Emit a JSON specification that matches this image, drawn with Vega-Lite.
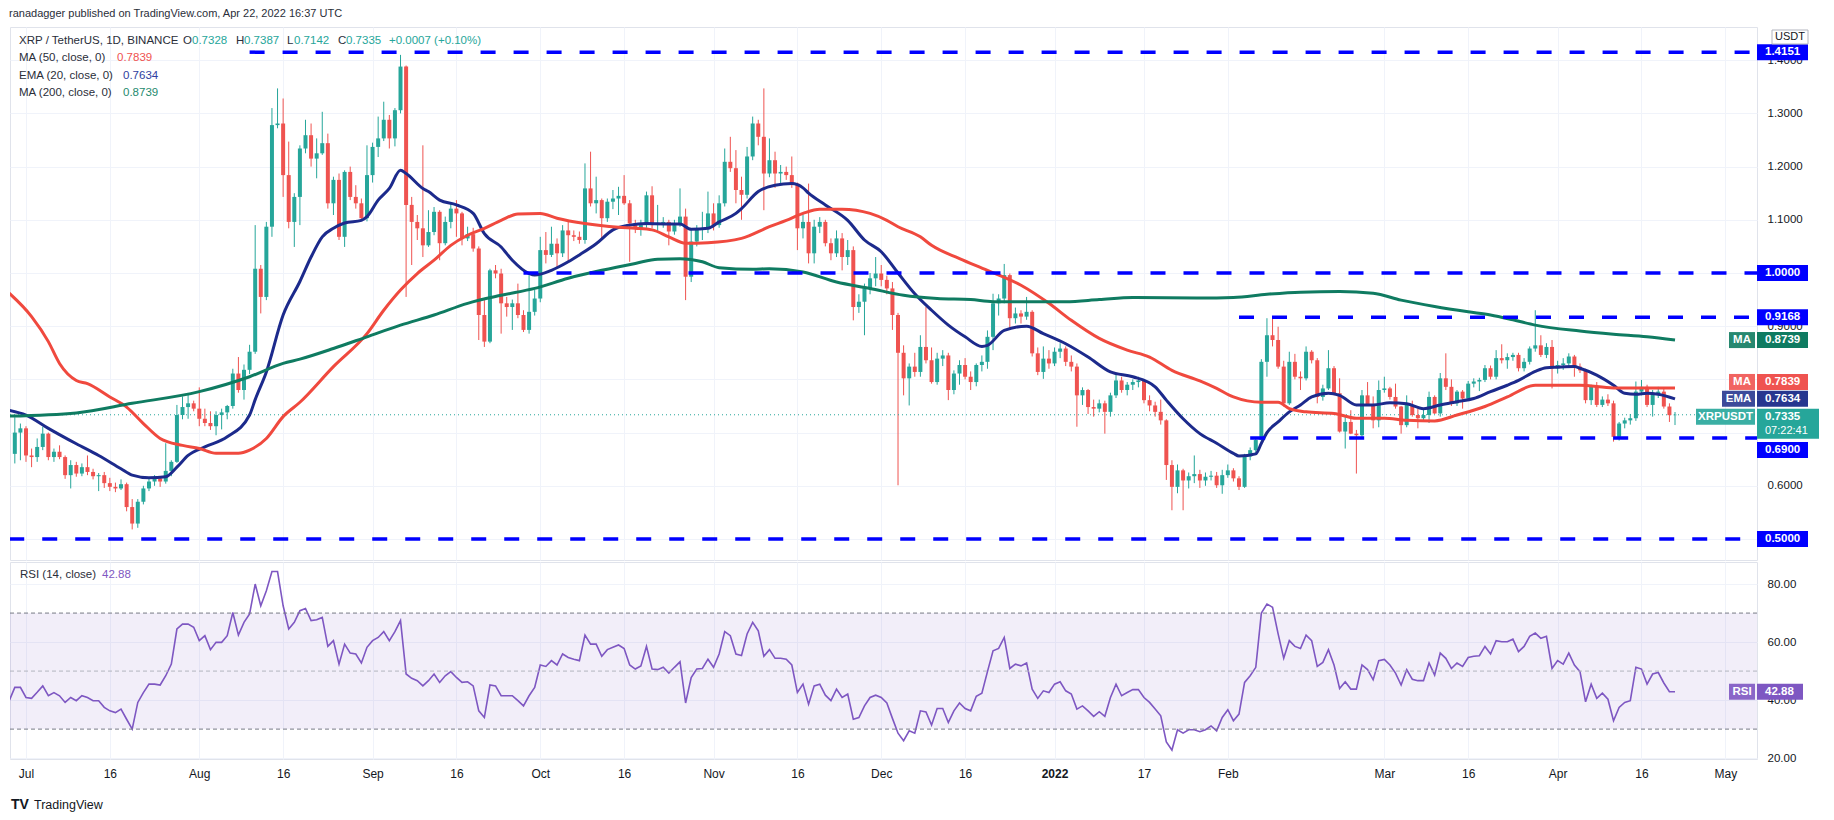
{
  "$schema": "https://vega.github.io/schema/vega-lite/v6.json",
  "background": "white",
  "padding": {"left": 9, "top": 7, "right": 5, "bottom": 5},
  "title": {"text": "ranadagger published on TradingView.com, Apr 22, 2022 16:37 UTC", "anchor": "start", "fontSize": 11, "fontWeight": "normal", "color": "#2a2e39", "font": "Liberation Sans", "offset": 8},
  "spacing": 0,
  "config": {
    "view": {"stroke": "#e0e3eb"},
    "font": "Liberation Sans",
    "text": {"font": "Liberation Sans", "fontSize": 11.5}
  },
  "datasets": {
    "candles": [
      {"d":"2021-06-28","o":null,"h":null,"l":null,"c":null,"r":39.8},
      {"d":"2021-06-29","o":0.660,"h":0.729,"l":0.642,"c":0.700,"r":44.4},
      {"d":"2021-06-30","o":0.700,"h":0.717,"l":0.648,"c":0.708,"r":44.4},
      {"d":"2021-07-01","o":0.708,"h":0.712,"l":0.645,"c":0.657,"r":40.9},
      {"d":"2021-07-02","o":0.657,"h":0.670,"l":0.635,"c":0.654,"r":40.6},
      {"d":"2021-07-03","o":0.654,"h":0.689,"l":0.645,"c":0.673,"r":42.7},
      {"d":"2021-07-04","o":0.673,"h":0.711,"l":0.667,"c":0.698,"r":44.9},
      {"d":"2021-07-05","o":0.698,"h":0.700,"l":0.648,"c":0.654,"r":41.5},
      {"d":"2021-07-06","o":0.654,"h":0.670,"l":0.645,"c":0.664,"r":42.6},
      {"d":"2021-07-07","o":0.664,"h":0.676,"l":0.650,"c":0.654,"r":41.5},
      {"d":"2021-07-08","o":0.654,"h":0.657,"l":0.613,"c":0.620,"r":39.2},
      {"d":"2021-07-09","o":0.620,"h":0.648,"l":0.595,"c":0.639,"r":40.9},
      {"d":"2021-07-10","o":0.639,"h":0.645,"l":0.617,"c":0.623,"r":39.8},
      {"d":"2021-07-11","o":0.623,"h":0.642,"l":0.618,"c":0.635,"r":41.5},
      {"d":"2021-07-12","o":0.635,"h":0.657,"l":0.620,"c":0.626,"r":40.9},
      {"d":"2021-07-13","o":0.626,"h":0.632,"l":0.612,"c":0.618,"r":39.8},
      {"d":"2021-07-14","o":0.618,"h":0.624,"l":0.590,"c":0.620,"r":39.8},
      {"d":"2021-07-15","o":0.620,"h":0.626,"l":0.596,"c":0.605,"r":37.5},
      {"d":"2021-07-16","o":0.605,"h":0.615,"l":0.590,"c":0.598,"r":36.3},
      {"d":"2021-07-17","o":0.598,"h":0.606,"l":0.588,"c":0.595,"r":35.7},
      {"d":"2021-07-18","o":0.595,"h":0.612,"l":0.592,"c":0.603,"r":36.9},
      {"d":"2021-07-19","o":0.603,"h":0.606,"l":0.552,"c":0.560,"r":33.4},
      {"d":"2021-07-20","o":0.560,"h":0.575,"l":0.518,"c":0.529,"r":30.0},
      {"d":"2021-07-21","o":0.529,"h":0.575,"l":0.521,"c":0.570,"r":39.2},
      {"d":"2021-07-22","o":0.570,"h":0.600,"l":0.565,"c":0.595,"r":42.6},
      {"d":"2021-07-23","o":0.595,"h":0.615,"l":0.590,"c":0.608,"r":45.5},
      {"d":"2021-07-24","o":0.608,"h":0.620,"l":0.600,"c":0.614,"r":45.5},
      {"d":"2021-07-25","o":0.614,"h":0.618,"l":0.598,"c":0.608,"r":45.2},
      {"d":"2021-07-26","o":0.608,"h":0.680,"l":0.604,"c":0.628,"r":48.4},
      {"d":"2021-07-27","o":0.628,"h":0.648,"l":0.618,"c":0.645,"r":52.4},
      {"d":"2021-07-28","o":0.645,"h":0.752,"l":0.643,"c":0.733,"r":64.5},
      {"d":"2021-07-29","o":0.733,"h":0.768,"l":0.725,"c":0.748,"r":66.2},
      {"d":"2021-07-30","o":0.748,"h":0.773,"l":0.726,"c":0.755,"r":66.2},
      {"d":"2021-07-31","o":0.755,"h":0.760,"l":0.740,"c":0.745,"r":65.1},
      {"d":"2021-08-01","o":0.745,"h":0.785,"l":0.712,"c":0.726,"r":60.5},
      {"d":"2021-08-02","o":0.726,"h":0.745,"l":0.712,"c":0.718,"r":62.2},
      {"d":"2021-08-03","o":0.718,"h":0.740,"l":0.705,"c":0.712,"r":57.4},
      {"d":"2021-08-04","o":0.712,"h":0.740,"l":0.695,"c":0.733,"r":59.9},
      {"d":"2021-08-05","o":0.733,"h":0.745,"l":0.706,"c":0.738,"r":59.9},
      {"d":"2021-08-06","o":0.738,"h":0.752,"l":0.725,"c":0.750,"r":62.2},
      {"d":"2021-08-07","o":0.750,"h":0.820,"l":0.745,"c":0.811,"r":70.2},
      {"d":"2021-08-08","o":0.811,"h":0.842,"l":0.775,"c":0.780,"r":62.4},
      {"d":"2021-08-09","o":0.780,"h":0.828,"l":0.762,"c":0.818,"r":66.8},
      {"d":"2021-08-10","o":0.818,"h":0.865,"l":0.810,"c":0.852,"r":69.7},
      {"d":"2021-08-11","o":0.852,"h":1.090,"l":0.848,"c":1.008,"r":80.0},
      {"d":"2021-08-12","o":1.008,"h":1.015,"l":0.924,"c":0.955,"r":72.5},
      {"d":"2021-08-13","o":0.955,"h":1.096,"l":0.949,"c":1.087,"r":77.7},
      {"d":"2021-08-14","o":1.087,"h":1.310,"l":1.068,"c":1.278,"r":84.3},
      {"d":"2021-08-15","o":1.278,"h":1.347,"l":1.272,"c":1.281,"r":84.3},
      {"d":"2021-08-16","o":1.281,"h":1.328,"l":1.143,"c":1.184,"r":72.5},
      {"d":"2021-08-17","o":1.184,"h":1.247,"l":1.084,"c":1.096,"r":64.5},
      {"d":"2021-08-18","o":1.096,"h":1.150,"l":1.049,"c":1.143,"r":66.8},
      {"d":"2021-08-19","o":1.143,"h":1.240,"l":1.090,"c":1.234,"r":70.8},
      {"d":"2021-08-20","o":1.234,"h":1.288,"l":1.225,"c":1.259,"r":71.6},
      {"d":"2021-08-21","o":1.259,"h":1.281,"l":1.200,"c":1.215,"r":67.4},
      {"d":"2021-08-22","o":1.215,"h":1.253,"l":1.178,"c":1.225,"r":67.7},
      {"d":"2021-08-23","o":1.225,"h":1.303,"l":1.222,"c":1.244,"r":68.5},
      {"d":"2021-08-24","o":1.244,"h":1.262,"l":1.121,"c":1.131,"r":58.5},
      {"d":"2021-08-25","o":1.131,"h":1.181,"l":1.109,"c":1.175,"r":60.5},
      {"d":"2021-08-26","o":1.175,"h":1.187,"l":1.062,"c":1.068,"r":52.4},
      {"d":"2021-08-27","o":1.068,"h":1.193,"l":1.049,"c":1.190,"r":59.3},
      {"d":"2021-08-28","o":1.190,"h":1.200,"l":1.137,"c":1.143,"r":56.2},
      {"d":"2021-08-29","o":1.143,"h":1.165,"l":1.121,"c":1.131,"r":55.9},
      {"d":"2021-08-30","o":1.131,"h":1.140,"l":1.100,"c":1.103,"r":52.8},
      {"d":"2021-08-31","o":1.103,"h":1.240,"l":1.097,"c":1.184,"r":58.2},
      {"d":"2021-09-01","o":1.184,"h":1.245,"l":1.170,"c":1.237,"r":60.5},
      {"d":"2021-09-02","o":1.237,"h":1.294,"l":1.218,"c":1.253,"r":61.6},
      {"d":"2021-09-03","o":1.253,"h":1.322,"l":1.248,"c":1.288,"r":63.6},
      {"d":"2021-09-04","o":1.288,"h":1.297,"l":1.234,"c":1.253,"r":60.5},
      {"d":"2021-09-05","o":1.253,"h":1.310,"l":1.238,"c":1.306,"r":63.6},
      {"d":"2021-09-06","o":1.306,"h":1.410,"l":1.300,"c":1.388,"r":67.4},
      {"d":"2021-09-07","o":1.388,"h":1.390,"l":0.955,"c":1.128,"r":49.0},
      {"d":"2021-09-08","o":1.128,"h":1.143,"l":1.015,"c":1.096,"r":47.5},
      {"d":"2021-09-09","o":1.096,"h":1.109,"l":1.062,"c":1.084,"r":46.7},
      {"d":"2021-09-10","o":1.084,"h":1.240,"l":1.030,"c":1.052,"r":44.9},
      {"d":"2021-09-11","o":1.052,"h":1.118,"l":1.049,"c":1.077,"r":46.7},
      {"d":"2021-09-12","o":1.077,"h":1.124,"l":1.071,"c":1.115,"r":49.0},
      {"d":"2021-09-13","o":1.115,"h":1.118,"l":1.024,"c":1.056,"r":46.1},
      {"d":"2021-09-14","o":1.056,"h":1.106,"l":1.052,"c":1.096,"r":48.4},
      {"d":"2021-09-15","o":1.096,"h":1.131,"l":1.084,"c":1.121,"r":49.8},
      {"d":"2021-09-16","o":1.121,"h":1.137,"l":1.068,"c":1.112,"r":47.8},
      {"d":"2021-09-17","o":1.112,"h":1.115,"l":1.052,"c":1.065,"r":46.1},
      {"d":"2021-09-18","o":1.065,"h":1.087,"l":1.060,"c":1.073,"r":46.3},
      {"d":"2021-09-19","o":1.073,"h":1.085,"l":1.040,"c":1.046,"r":44.9},
      {"d":"2021-09-20","o":1.046,"h":1.050,"l":0.874,"c":0.921,"r":36.3},
      {"d":"2021-09-21","o":0.921,"h":0.949,"l":0.861,"c":0.871,"r":34.0},
      {"d":"2021-09-22","o":0.871,"h":1.008,"l":0.868,"c":1.005,"r":45.2},
      {"d":"2021-09-23","o":1.005,"h":1.015,"l":0.990,"c":0.999,"r":44.9},
      {"d":"2021-09-24","o":0.999,"h":1.008,"l":0.886,"c":0.943,"r":41.5},
      {"d":"2021-09-25","o":0.943,"h":0.955,"l":0.918,"c":0.936,"r":41.5},
      {"d":"2021-09-26","o":0.936,"h":0.950,"l":0.893,"c":0.943,"r":41.5},
      {"d":"2021-09-27","o":0.943,"h":0.980,"l":0.915,"c":0.921,"r":39.8},
      {"d":"2021-09-28","o":0.921,"h":0.930,"l":0.889,"c":0.893,"r":38.0},
      {"d":"2021-09-29","o":0.893,"h":0.996,"l":0.886,"c":0.927,"r":41.5},
      {"d":"2021-09-30","o":0.927,"h":0.968,"l":0.920,"c":0.952,"r":44.4},
      {"d":"2021-10-01","o":0.952,"h":1.068,"l":0.945,"c":1.043,"r":52.1},
      {"d":"2021-10-02","o":1.043,"h":1.077,"l":1.018,"c":1.034,"r":51.6},
      {"d":"2021-10-03","o":1.034,"h":1.087,"l":1.030,"c":1.055,"r":53.6},
      {"d":"2021-10-04","o":1.055,"h":1.065,"l":1.008,"c":1.037,"r":52.1},
      {"d":"2021-10-05","o":1.037,"h":1.090,"l":1.030,"c":1.080,"r":55.9},
      {"d":"2021-10-06","o":1.080,"h":1.096,"l":1.021,"c":1.071,"r":54.7},
      {"d":"2021-10-07","o":1.071,"h":1.080,"l":1.060,"c":1.068,"r":54.1},
      {"d":"2021-10-08","o":1.068,"h":1.078,"l":1.055,"c":1.062,"r":53.6},
      {"d":"2021-10-09","o":1.062,"h":1.206,"l":1.055,"c":1.159,"r":62.4},
      {"d":"2021-10-10","o":1.159,"h":1.228,"l":1.125,"c":1.131,"r":59.3},
      {"d":"2021-10-11","o":1.131,"h":1.181,"l":1.112,"c":1.137,"r":59.3},
      {"d":"2021-10-12","o":1.137,"h":1.140,"l":1.062,"c":1.103,"r":55.1},
      {"d":"2021-10-13","o":1.103,"h":1.140,"l":1.096,"c":1.134,"r":57.4},
      {"d":"2021-10-14","o":1.134,"h":1.156,"l":1.120,"c":1.140,"r":58.2},
      {"d":"2021-10-15","o":1.140,"h":1.162,"l":1.109,"c":1.145,"r":59.0},
      {"d":"2021-10-16","o":1.145,"h":1.184,"l":1.128,"c":1.131,"r":57.8},
      {"d":"2021-10-17","o":1.131,"h":1.137,"l":1.021,"c":1.093,"r":52.1},
      {"d":"2021-10-18","o":1.093,"h":1.100,"l":1.075,"c":1.084,"r":50.7},
      {"d":"2021-10-19","o":1.084,"h":1.100,"l":1.070,"c":1.090,"r":51.8},
      {"d":"2021-10-20","o":1.090,"h":1.153,"l":1.085,"c":1.146,"r":58.5},
      {"d":"2021-10-21","o":1.146,"h":1.163,"l":1.084,"c":1.090,"r":50.7},
      {"d":"2021-10-22","o":1.090,"h":1.128,"l":1.078,"c":1.093,"r":50.5},
      {"d":"2021-10-23","o":1.093,"h":1.105,"l":1.085,"c":1.096,"r":51.3},
      {"d":"2021-10-24","o":1.096,"h":1.100,"l":1.052,"c":1.078,"r":49.3},
      {"d":"2021-10-25","o":1.078,"h":1.100,"l":1.072,"c":1.090,"r":51.3},
      {"d":"2021-10-26","o":1.090,"h":1.159,"l":1.087,"c":1.106,"r":53.2},
      {"d":"2021-10-27","o":1.106,"h":1.121,"l":0.949,"c":0.993,"r":39.0},
      {"d":"2021-10-28","o":0.993,"h":1.084,"l":0.983,"c":1.059,"r":47.8},
      {"d":"2021-10-29","o":1.059,"h":1.090,"l":1.050,"c":1.081,"r":50.7},
      {"d":"2021-10-30","o":1.081,"h":1.115,"l":1.062,"c":1.084,"r":50.9},
      {"d":"2021-10-31","o":1.084,"h":1.153,"l":1.075,"c":1.112,"r":54.1},
      {"d":"2021-11-01","o":1.112,"h":1.131,"l":1.080,"c":1.090,"r":51.3},
      {"d":"2021-11-02","o":1.090,"h":1.146,"l":1.085,"c":1.131,"r":55.9},
      {"d":"2021-11-03","o":1.131,"h":1.234,"l":1.125,"c":1.209,"r":63.6},
      {"d":"2021-11-04","o":1.209,"h":1.256,"l":1.190,"c":1.197,"r":62.2},
      {"d":"2021-11-05","o":1.197,"h":1.231,"l":1.131,"c":1.156,"r":55.9},
      {"d":"2021-11-06","o":1.156,"h":1.181,"l":1.100,"c":1.147,"r":55.4},
      {"d":"2021-11-07","o":1.147,"h":1.237,"l":1.140,"c":1.219,"r":62.8},
      {"d":"2021-11-08","o":1.219,"h":1.294,"l":1.212,"c":1.281,"r":66.8},
      {"d":"2021-11-09","o":1.281,"h":1.288,"l":1.240,"c":1.256,"r":63.9},
      {"d":"2021-11-10","o":1.256,"h":1.347,"l":1.118,"c":1.187,"r":55.1},
      {"d":"2021-11-11","o":1.187,"h":1.253,"l":1.180,"c":1.212,"r":57.4},
      {"d":"2021-11-12","o":1.212,"h":1.228,"l":1.160,"c":1.187,"r":54.4},
      {"d":"2021-11-13","o":1.187,"h":1.203,"l":1.168,"c":1.190,"r":54.4},
      {"d":"2021-11-14","o":1.190,"h":1.200,"l":1.175,"c":1.184,"r":54.1},
      {"d":"2021-11-15","o":1.184,"h":1.219,"l":1.160,"c":1.168,"r":52.1},
      {"d":"2021-11-16","o":1.168,"h":1.170,"l":1.043,"c":1.084,"r":42.6},
      {"d":"2021-11-17","o":1.084,"h":1.110,"l":1.065,"c":1.096,"r":45.5},
      {"d":"2021-11-18","o":1.096,"h":1.168,"l":1.018,"c":1.037,"r":38.6},
      {"d":"2021-11-19","o":1.037,"h":1.100,"l":1.018,"c":1.087,"r":44.9},
      {"d":"2021-11-20","o":1.087,"h":1.105,"l":1.075,"c":1.096,"r":45.5},
      {"d":"2021-11-21","o":1.096,"h":1.100,"l":1.050,"c":1.056,"r":41.7},
      {"d":"2021-11-22","o":1.056,"h":1.065,"l":1.024,"c":1.037,"r":39.8},
      {"d":"2021-11-23","o":1.037,"h":1.080,"l":1.030,"c":1.065,"r":43.8},
      {"d":"2021-11-24","o":1.065,"h":1.075,"l":1.005,"c":1.030,"r":40.9},
      {"d":"2021-11-25","o":1.030,"h":1.062,"l":1.015,"c":1.043,"r":42.1},
      {"d":"2021-11-26","o":1.043,"h":1.050,"l":0.911,"c":0.936,"r":33.4},
      {"d":"2021-11-27","o":0.936,"h":0.960,"l":0.925,"c":0.946,"r":34.0},
      {"d":"2021-11-28","o":0.946,"h":0.980,"l":0.883,"c":0.971,"r":38.0},
      {"d":"2021-11-29","o":0.971,"h":1.000,"l":0.960,"c":0.990,"r":40.9},
      {"d":"2021-11-30","o":0.990,"h":1.030,"l":0.975,"c":0.999,"r":41.7},
      {"d":"2021-12-01","o":0.999,"h":1.015,"l":0.975,"c":0.987,"r":40.9},
      {"d":"2021-12-02","o":0.987,"h":0.995,"l":0.960,"c":0.971,"r":39.0},
      {"d":"2021-12-03","o":0.971,"h":0.983,"l":0.893,"c":0.921,"r":33.7},
      {"d":"2021-12-04","o":0.921,"h":0.925,"l":0.601,"c":0.850,"r":28.6},
      {"d":"2021-12-05","o":0.850,"h":0.864,"l":0.770,"c":0.802,"r":26.0},
      {"d":"2021-12-06","o":0.802,"h":0.830,"l":0.751,"c":0.824,"r":29.4},
      {"d":"2021-12-07","o":0.824,"h":0.850,"l":0.805,"c":0.814,"r":28.6},
      {"d":"2021-12-08","o":0.814,"h":0.883,"l":0.805,"c":0.861,"r":36.3},
      {"d":"2021-12-09","o":0.861,"h":0.936,"l":0.830,"c":0.836,"r":35.9},
      {"d":"2021-12-10","o":0.836,"h":0.860,"l":0.792,"c":0.795,"r":31.4},
      {"d":"2021-12-11","o":0.795,"h":0.850,"l":0.790,"c":0.839,"r":37.1},
      {"d":"2021-12-12","o":0.839,"h":0.855,"l":0.825,"c":0.845,"r":37.1},
      {"d":"2021-12-13","o":0.845,"h":0.850,"l":0.761,"c":0.780,"r":32.3},
      {"d":"2021-12-14","o":0.780,"h":0.817,"l":0.772,"c":0.811,"r":36.3},
      {"d":"2021-12-15","o":0.811,"h":0.836,"l":0.790,"c":0.827,"r":39.0},
      {"d":"2021-12-16","o":0.827,"h":0.840,"l":0.800,"c":0.805,"r":37.1},
      {"d":"2021-12-17","o":0.805,"h":0.815,"l":0.780,"c":0.795,"r":36.3},
      {"d":"2021-12-18","o":0.795,"h":0.830,"l":0.787,"c":0.827,"r":41.3},
      {"d":"2021-12-19","o":0.827,"h":0.845,"l":0.815,"c":0.833,"r":42.4},
      {"d":"2021-12-20","o":0.833,"h":0.892,"l":0.820,"c":0.880,"r":49.8},
      {"d":"2021-12-21","o":0.880,"h":0.961,"l":0.855,"c":0.943,"r":57.0},
      {"d":"2021-12-22","o":0.943,"h":0.960,"l":0.920,"c":0.952,"r":57.8},
      {"d":"2021-12-23","o":0.952,"h":1.017,"l":0.943,"c":0.996,"r":61.6},
      {"d":"2021-12-24","o":0.996,"h":0.999,"l":0.896,"c":0.915,"r":50.9},
      {"d":"2021-12-25","o":0.915,"h":0.935,"l":0.905,"c":0.924,"r":52.4},
      {"d":"2021-12-26","o":0.924,"h":0.930,"l":0.905,"c":0.918,"r":51.8},
      {"d":"2021-12-27","o":0.918,"h":0.955,"l":0.912,"c":0.927,"r":52.8},
      {"d":"2021-12-28","o":0.927,"h":0.930,"l":0.843,"c":0.849,"r":43.8},
      {"d":"2021-12-29","o":0.849,"h":0.860,"l":0.808,"c":0.814,"r":40.6},
      {"d":"2021-12-30","o":0.814,"h":0.862,"l":0.801,"c":0.839,"r":43.2},
      {"d":"2021-12-31","o":0.839,"h":0.855,"l":0.820,"c":0.830,"r":42.6},
      {"d":"2022-01-01","o":0.830,"h":0.860,"l":0.825,"c":0.852,"r":45.5},
      {"d":"2022-01-02","o":0.852,"h":0.868,"l":0.840,"c":0.858,"r":46.3},
      {"d":"2022-01-03","o":0.858,"h":0.862,"l":0.825,"c":0.833,"r":43.2},
      {"d":"2022-01-04","o":0.833,"h":0.845,"l":0.815,"c":0.824,"r":42.1},
      {"d":"2022-01-05","o":0.824,"h":0.830,"l":0.711,"c":0.770,"r":36.9},
      {"d":"2022-01-06","o":0.770,"h":0.785,"l":0.752,"c":0.780,"r":38.0},
      {"d":"2022-01-07","o":0.780,"h":0.782,"l":0.735,"c":0.748,"r":36.3},
      {"d":"2022-01-08","o":0.748,"h":0.762,"l":0.730,"c":0.745,"r":34.4},
      {"d":"2022-01-09","o":0.745,"h":0.762,"l":0.738,"c":0.755,"r":36.0},
      {"d":"2022-01-10","o":0.755,"h":0.760,"l":0.698,"c":0.739,"r":34.4},
      {"d":"2022-01-11","o":0.739,"h":0.775,"l":0.730,"c":0.770,"r":40.9},
      {"d":"2022-01-12","o":0.770,"h":0.812,"l":0.765,"c":0.798,"r":45.5},
      {"d":"2022-01-13","o":0.798,"h":0.805,"l":0.775,"c":0.780,"r":41.5},
      {"d":"2022-01-14","o":0.780,"h":0.795,"l":0.770,"c":0.790,"r":42.6},
      {"d":"2022-01-15","o":0.790,"h":0.800,"l":0.780,"c":0.795,"r":43.6},
      {"d":"2022-01-16","o":0.795,"h":0.805,"l":0.785,"c":0.798,"r":43.6},
      {"d":"2022-01-17","o":0.798,"h":0.800,"l":0.755,"c":0.761,"r":40.9},
      {"d":"2022-01-18","o":0.761,"h":0.770,"l":0.740,"c":0.751,"r":39.2},
      {"d":"2022-01-19","o":0.751,"h":0.758,"l":0.730,"c":0.739,"r":36.9},
      {"d":"2022-01-20","o":0.739,"h":0.762,"l":0.715,"c":0.723,"r":34.6},
      {"d":"2022-01-21","o":0.723,"h":0.725,"l":0.611,"c":0.639,"r":25.6},
      {"d":"2022-01-22","o":0.639,"h":0.648,"l":0.554,"c":0.598,"r":22.8},
      {"d":"2022-01-23","o":0.598,"h":0.640,"l":0.586,"c":0.629,"r":29.8},
      {"d":"2022-01-24","o":0.629,"h":0.632,"l":0.554,"c":0.610,"r":28.6},
      {"d":"2022-01-25","o":0.610,"h":0.625,"l":0.595,"c":0.618,"r":29.8},
      {"d":"2022-01-26","o":0.618,"h":0.657,"l":0.605,"c":0.622,"r":29.8},
      {"d":"2022-01-27","o":0.622,"h":0.630,"l":0.596,"c":0.610,"r":29.1},
      {"d":"2022-01-28","o":0.610,"h":0.625,"l":0.600,"c":0.617,"r":29.8},
      {"d":"2022-01-29","o":0.617,"h":0.628,"l":0.610,"c":0.619,"r":31.1},
      {"d":"2022-01-30","o":0.619,"h":0.626,"l":0.596,"c":0.601,"r":29.4},
      {"d":"2022-01-31","o":0.601,"h":0.630,"l":0.585,"c":0.620,"r":34.0},
      {"d":"2022-02-01","o":0.620,"h":0.640,"l":0.615,"c":0.629,"r":36.7},
      {"d":"2022-02-02","o":0.629,"h":0.633,"l":0.608,"c":0.614,"r":32.9},
      {"d":"2022-02-03","o":0.614,"h":0.618,"l":0.592,"c":0.598,"r":35.2},
      {"d":"2022-02-04","o":0.598,"h":0.660,"l":0.596,"c":0.655,"r":46.1},
      {"d":"2022-02-05","o":0.655,"h":0.672,"l":0.648,"c":0.667,"r":48.4},
      {"d":"2022-02-06","o":0.667,"h":0.690,"l":0.660,"c":0.686,"r":51.3},
      {"d":"2022-02-07","o":0.686,"h":0.838,"l":0.682,"c":0.833,"r":70.0},
      {"d":"2022-02-08","o":0.833,"h":0.915,"l":0.805,"c":0.883,"r":73.1},
      {"d":"2022-02-09","o":0.883,"h":0.917,"l":0.862,"c":0.874,"r":72.0},
      {"d":"2022-02-10","o":0.874,"h":0.899,"l":0.820,"c":0.824,"r":62.8},
      {"d":"2022-02-11","o":0.824,"h":0.835,"l":0.749,"c":0.755,"r":54.4},
      {"d":"2022-02-12","o":0.755,"h":0.852,"l":0.752,"c":0.833,"r":60.5},
      {"d":"2022-02-13","o":0.833,"h":0.848,"l":0.800,"c":0.805,"r":58.5},
      {"d":"2022-02-14","o":0.805,"h":0.815,"l":0.780,"c":0.802,"r":57.8},
      {"d":"2022-02-15","o":0.802,"h":0.862,"l":0.798,"c":0.852,"r":62.4},
      {"d":"2022-02-16","o":0.852,"h":0.855,"l":0.830,"c":0.836,"r":60.5},
      {"d":"2022-02-17","o":0.836,"h":0.840,"l":0.755,"c":0.767,"r":51.6},
      {"d":"2022-02-18","o":0.767,"h":0.790,"l":0.760,"c":0.783,"r":53.0},
      {"d":"2022-02-19","o":0.783,"h":0.855,"l":0.780,"c":0.821,"r":57.4},
      {"d":"2022-02-20","o":0.821,"h":0.825,"l":0.770,"c":0.774,"r":52.1},
      {"d":"2022-02-21","o":0.774,"h":0.802,"l":0.700,"c":0.702,"r":44.0},
      {"d":"2022-02-22","o":0.702,"h":0.730,"l":0.670,"c":0.720,"r":46.3},
      {"d":"2022-02-23","o":0.720,"h":0.742,"l":0.697,"c":0.698,"r":43.8},
      {"d":"2022-02-24","o":0.698,"h":0.705,"l":0.623,"c":0.695,"r":43.8},
      {"d":"2022-02-25","o":0.695,"h":0.780,"l":0.692,"c":0.770,"r":52.1},
      {"d":"2022-02-26","o":0.770,"h":0.795,"l":0.750,"c":0.752,"r":50.5},
      {"d":"2022-02-27","o":0.752,"h":0.768,"l":0.708,"c":0.723,"r":47.0},
      {"d":"2022-02-28","o":0.723,"h":0.798,"l":0.710,"c":0.780,"r":53.6},
      {"d":"2022-03-01","o":0.780,"h":0.805,"l":0.775,"c":0.783,"r":54.0},
      {"d":"2022-03-02","o":0.783,"h":0.786,"l":0.762,"c":0.767,"r":52.1},
      {"d":"2022-03-03","o":0.767,"h":0.792,"l":0.745,"c":0.749,"r":49.3},
      {"d":"2022-03-04","o":0.749,"h":0.750,"l":0.698,"c":0.714,"r":45.2},
      {"d":"2022-03-05","o":0.714,"h":0.770,"l":0.710,"c":0.752,"r":50.5},
      {"d":"2022-03-06","o":0.752,"h":0.760,"l":0.730,"c":0.733,"r":47.2},
      {"d":"2022-03-07","o":0.733,"h":0.745,"l":0.708,"c":0.727,"r":46.7},
      {"d":"2022-03-08","o":0.727,"h":0.745,"l":0.720,"c":0.733,"r":46.7},
      {"d":"2022-03-09","o":0.733,"h":0.777,"l":0.718,"c":0.767,"r":52.8},
      {"d":"2022-03-10","o":0.767,"h":0.770,"l":0.735,"c":0.736,"r":48.6},
      {"d":"2022-03-11","o":0.736,"h":0.812,"l":0.730,"c":0.802,"r":56.2},
      {"d":"2022-03-12","o":0.802,"h":0.849,"l":0.780,"c":0.786,"r":54.4},
      {"d":"2022-03-13","o":0.786,"h":0.800,"l":0.750,"c":0.755,"r":50.9},
      {"d":"2022-03-14","o":0.755,"h":0.780,"l":0.750,"c":0.777,"r":52.8},
      {"d":"2022-03-15","o":0.777,"h":0.780,"l":0.745,"c":0.764,"r":51.6},
      {"d":"2022-03-16","o":0.764,"h":0.797,"l":0.760,"c":0.792,"r":54.7},
      {"d":"2022-03-17","o":0.792,"h":0.802,"l":0.785,"c":0.796,"r":55.1},
      {"d":"2022-03-18","o":0.796,"h":0.803,"l":0.778,"c":0.799,"r":55.3},
      {"d":"2022-03-19","o":0.799,"h":0.827,"l":0.795,"c":0.821,"r":58.5},
      {"d":"2022-03-20","o":0.821,"h":0.826,"l":0.800,"c":0.805,"r":55.9},
      {"d":"2022-03-21","o":0.805,"h":0.855,"l":0.800,"c":0.840,"r":60.5},
      {"d":"2022-03-22","o":0.840,"h":0.866,"l":0.830,"c":0.836,"r":60.1},
      {"d":"2022-03-23","o":0.836,"h":0.849,"l":0.820,"c":0.842,"r":60.1},
      {"d":"2022-03-24","o":0.842,"h":0.850,"l":0.835,"c":0.846,"r":61.0},
      {"d":"2022-03-25","o":0.846,"h":0.850,"l":0.815,"c":0.821,"r":56.7},
      {"d":"2022-03-26","o":0.821,"h":0.840,"l":0.815,"c":0.833,"r":58.5},
      {"d":"2022-03-27","o":0.833,"h":0.862,"l":0.828,"c":0.858,"r":62.0},
      {"d":"2022-03-28","o":0.858,"h":0.930,"l":0.852,"c":0.864,"r":63.1},
      {"d":"2022-03-29","o":0.864,"h":0.883,"l":0.842,"c":0.846,"r":61.3},
      {"d":"2022-03-30","o":0.846,"h":0.868,"l":0.840,"c":0.861,"r":62.0},
      {"d":"2022-03-31","o":0.861,"h":0.874,"l":0.783,"c":0.821,"r":50.9},
      {"d":"2022-04-01","o":0.821,"h":0.835,"l":0.811,"c":0.827,"r":53.6},
      {"d":"2022-04-02","o":0.827,"h":0.840,"l":0.818,"c":0.830,"r":52.4},
      {"d":"2022-04-03","o":0.830,"h":0.849,"l":0.825,"c":0.843,"r":56.2},
      {"d":"2022-04-04","o":0.843,"h":0.846,"l":0.805,"c":0.824,"r":52.1},
      {"d":"2022-04-05","o":0.824,"h":0.830,"l":0.812,"c":0.817,"r":49.8},
      {"d":"2022-04-06","o":0.817,"h":0.820,"l":0.755,"c":0.761,"r":39.4},
      {"d":"2022-04-07","o":0.761,"h":0.790,"l":0.752,"c":0.786,"r":45.5},
      {"d":"2022-04-08","o":0.786,"h":0.795,"l":0.748,"c":0.752,"r":40.6},
      {"d":"2022-04-09","o":0.752,"h":0.768,"l":0.748,"c":0.762,"r":42.4},
      {"d":"2022-04-10","o":0.762,"h":0.772,"l":0.750,"c":0.755,"r":40.3},
      {"d":"2022-04-11","o":0.755,"h":0.760,"l":0.683,"c":0.692,"r":32.9},
      {"d":"2022-04-12","o":0.692,"h":0.720,"l":0.685,"c":0.717,"r":37.5},
      {"d":"2022-04-13","o":0.717,"h":0.728,"l":0.708,"c":0.723,"r":39.2},
      {"d":"2022-04-14","o":0.723,"h":0.735,"l":0.715,"c":0.727,"r":39.8},
      {"d":"2022-04-15","o":0.727,"h":0.796,"l":0.722,"c":0.777,"r":51.3},
      {"d":"2022-04-16","o":0.777,"h":0.799,"l":0.770,"c":0.786,"r":50.7},
      {"d":"2022-04-17","o":0.786,"h":0.790,"l":0.748,"c":0.752,"r":45.5},
      {"d":"2022-04-18","o":0.752,"h":0.780,"l":0.730,"c":0.774,"r":49.0},
      {"d":"2022-04-19","o":0.774,"h":0.786,"l":0.765,"c":0.777,"r":49.5},
      {"d":"2022-04-20","o":0.777,"h":0.785,"l":0.745,"c":0.749,"r":45.9},
      {"d":"2022-04-21","o":0.749,"h":0.755,"l":0.720,"c":0.7328,"r":42.9},
      {"d":"2022-04-22","o":0.7328,"h":0.7387,"l":0.7142,"c":0.7335,"r":42.88}
    ],
    "ma": [
      {"d":"2021-06-28","k":"ema","v":0.742},{"d":"2021-07-01","k":"ema","v":0.733},{"d":"2021-07-05","k":"ema","v":0.708},{"d":"2021-07-10","k":"ema","v":0.679},{"d":"2021-07-14","k":"ema","v":0.657},{"d":"2021-07-18","k":"ema","v":0.632},{"d":"2021-07-20","k":"ema","v":0.620},{"d":"2021-07-23","k":"ema","v":0.615},{"d":"2021-07-26","k":"ema","v":0.617},{"d":"2021-07-28","k":"ema","v":0.635},{"d":"2021-07-30","k":"ema","v":0.657},{"d":"2021-08-02","k":"ema","v":0.673},{"d":"2021-08-06","k":"ema","v":0.692},{"d":"2021-08-10","k":"ema","v":0.733},{"d":"2021-08-11","k":"ema","v":0.762},{"d":"2021-08-13","k":"ema","v":0.814},{"d":"2021-08-16","k":"ema","v":0.921},{"d":"2021-08-19","k":"ema","v":0.984},{"d":"2021-08-21","k":"ema","v":1.030},{"d":"2021-08-23","k":"ema","v":1.068},{"d":"2021-08-25","k":"ema","v":1.084},{"d":"2021-08-27","k":"ema","v":1.094},{"d":"2021-08-30","k":"ema","v":1.099},{"d":"2021-08-31","k":"ema","v":1.106},{"d":"2021-09-02","k":"ema","v":1.137},{"d":"2021-09-04","k":"ema","v":1.159},{"d":"2021-09-06","k":"ema","v":1.193},{"d":"2021-09-07","k":"ema","v":1.187},{"d":"2021-09-10","k":"ema","v":1.159},{"d":"2021-09-11","k":"ema","v":1.153},{"d":"2021-09-13","k":"ema","v":1.137},{"d":"2021-09-16","k":"ema","v":1.128},{"d":"2021-09-19","k":"ema","v":1.112},{"d":"2021-09-21","k":"ema","v":1.074},{"d":"2021-09-24","k":"ema","v":1.049},{"d":"2021-09-26","k":"ema","v":1.024},{"d":"2021-09-29","k":"ema","v":0.999},{"d":"2021-09-30","k":"ema","v":0.996},{"d":"2021-10-03","k":"ema","v":1.005},{"d":"2021-10-06","k":"ema","v":1.021},{"d":"2021-10-08","k":"ema","v":1.034},{"d":"2021-10-11","k":"ema","v":1.055},{"d":"2021-10-14","k":"ema","v":1.081},{"d":"2021-10-17","k":"ema","v":1.090},{"d":"2021-10-20","k":"ema","v":1.093},{"d":"2021-10-24","k":"ema","v":1.092},{"d":"2021-10-26","k":"ema","v":1.092},{"d":"2021-10-28","k":"ema","v":1.082},{"d":"2021-10-31","k":"ema","v":1.084},{"d":"2021-11-02","k":"ema","v":1.096},{"d":"2021-11-05","k":"ema","v":1.112},{"d":"2021-11-06","k":"ema","v":1.121},{"d":"2021-11-09","k":"ema","v":1.153},{"d":"2021-11-12","k":"ema","v":1.165},{"d":"2021-11-15","k":"ema","v":1.168},{"d":"2021-11-17","k":"ema","v":1.160},{"d":"2021-11-18","k":"ema","v":1.150},{"d":"2021-11-21","k":"ema","v":1.128},{"d":"2021-11-25","k":"ema","v":1.099},{"d":"2021-11-28","k":"ema","v":1.062},{"d":"2021-12-01","k":"ema","v":1.040},{"d":"2021-12-04","k":"ema","v":1.000},{"d":"2021-12-07","k":"ema","v":0.961},{"d":"2021-12-10","k":"ema","v":0.930},{"d":"2021-12-13","k":"ema","v":0.902},{"d":"2021-12-16","k":"ema","v":0.880},{"d":"2021-12-19","k":"ema","v":0.862},{"d":"2021-12-20","k":"ema","v":0.864},{"d":"2021-12-23","k":"ema","v":0.892},{"d":"2021-12-27","k":"ema","v":0.900},{"d":"2021-12-30","k":"ema","v":0.886},{"d":"2022-01-03","k":"ema","v":0.867},{"d":"2022-01-07","k":"ema","v":0.842},{"d":"2022-01-11","k":"ema","v":0.814},{"d":"2022-01-15","k":"ema","v":0.805},{"d":"2022-01-19","k":"ema","v":0.786},{"d":"2022-01-21","k":"ema","v":0.761},{"d":"2022-01-24","k":"ema","v":0.726},{"d":"2022-01-27","k":"ema","v":0.698},{"d":"2022-01-30","k":"ema","v":0.680},{"d":"2022-02-02","k":"ema","v":0.661},{"d":"2022-02-03","k":"ema","v":0.656},{"d":"2022-02-06","k":"ema","v":0.660},{"d":"2022-02-07","k":"ema","v":0.680},{"d":"2022-02-08","k":"ema","v":0.700},{"d":"2022-02-10","k":"ema","v":0.720},{"d":"2022-02-12","k":"ema","v":0.739},{"d":"2022-02-14","k":"ema","v":0.752},{"d":"2022-02-16","k":"ema","v":0.767},{"d":"2022-02-19","k":"ema","v":0.774},{"d":"2022-02-21","k":"ema","v":0.770},{"d":"2022-02-24","k":"ema","v":0.752},{"d":"2022-02-27","k":"ema","v":0.752},{"d":"2022-03-02","k":"ema","v":0.756},{"d":"2022-03-05","k":"ema","v":0.754},{"d":"2022-03-08","k":"ema","v":0.745},{"d":"2022-03-11","k":"ema","v":0.752},{"d":"2022-03-14","k":"ema","v":0.758},{"d":"2022-03-17","k":"ema","v":0.764},{"d":"2022-03-20","k":"ema","v":0.777},{"d":"2022-03-23","k":"ema","v":0.789},{"d":"2022-03-25","k":"ema","v":0.798},{"d":"2022-03-28","k":"ema","v":0.815},{"d":"2022-03-30","k":"ema","v":0.822},{"d":"2022-04-01","k":"ema","v":0.823},{"d":"2022-04-04","k":"ema","v":0.824},{"d":"2022-04-05","k":"ema","v":0.821},{"d":"2022-04-08","k":"ema","v":0.808},{"d":"2022-04-11","k":"ema","v":0.789},{"d":"2022-04-13","k":"ema","v":0.774},{"d":"2022-04-15","k":"ema","v":0.772},{"d":"2022-04-17","k":"ema","v":0.774},{"d":"2022-04-19","k":"ema","v":0.772},{"d":"2022-04-22","k":"ema","v":0.7634},
      {"d":"2021-06-28","k":"ma50","v":0.962},{"d":"2021-07-02","k":"ma50","v":0.918},{"d":"2021-07-05","k":"ma50","v":0.871},{"d":"2021-07-07","k":"ma50","v":0.830},{"d":"2021-07-10","k":"ma50","v":0.798},{"d":"2021-07-12","k":"ma50","v":0.792},{"d":"2021-07-16","k":"ma50","v":0.767},{"d":"2021-07-19","k":"ma50","v":0.748},{"d":"2021-07-22","k":"ma50","v":0.717},{"d":"2021-07-25","k":"ma50","v":0.689},{"d":"2021-07-29","k":"ma50","v":0.676},{"d":"2021-08-01","k":"ma50","v":0.670},{"d":"2021-08-04","k":"ma50","v":0.661},{"d":"2021-08-08","k":"ma50","v":0.661},{"d":"2021-08-10","k":"ma50","v":0.667},{"d":"2021-08-13","k":"ma50","v":0.689},{"d":"2021-08-16","k":"ma50","v":0.730},{"d":"2021-08-19","k":"ma50","v":0.757},{"d":"2021-08-25","k":"ma50","v":0.824},{"d":"2021-08-31","k":"ma50","v":0.886},{"d":"2021-09-03","k":"ma50","v":0.930},{"d":"2021-09-06","k":"ma50","v":0.968},{"d":"2021-09-09","k":"ma50","v":0.999},{"d":"2021-09-12","k":"ma50","v":1.024},{"d":"2021-09-15","k":"ma50","v":1.052},{"d":"2021-09-18","k":"ma50","v":1.071},{"d":"2021-09-21","k":"ma50","v":1.084},{"d":"2021-09-24","k":"ma50","v":1.099},{"d":"2021-09-27","k":"ma50","v":1.111},{"d":"2021-10-01","k":"ma50","v":1.112},{"d":"2021-10-04","k":"ma50","v":1.103},{"d":"2021-10-09","k":"ma50","v":1.093},{"d":"2021-10-15","k":"ma50","v":1.086},{"d":"2021-10-18","k":"ma50","v":1.084},{"d":"2021-10-21","k":"ma50","v":1.081},{"d":"2021-10-24","k":"ma50","v":1.068},{"d":"2021-10-27","k":"ma50","v":1.056},{"d":"2021-10-31","k":"ma50","v":1.057},{"d":"2021-11-06","k":"ma50","v":1.065},{"d":"2021-11-11","k":"ma50","v":1.087},{"d":"2021-11-14","k":"ma50","v":1.099},{"d":"2021-11-17","k":"ma50","v":1.112},{"d":"2021-11-20","k":"ma50","v":1.120},{"d":"2021-11-24","k":"ma50","v":1.120},{"d":"2021-11-29","k":"ma50","v":1.112},{"d":"2021-12-02","k":"ma50","v":1.099},{"d":"2021-12-04","k":"ma50","v":1.087},{"d":"2021-12-08","k":"ma50","v":1.068},{"d":"2021-12-10","k":"ma50","v":1.052},{"d":"2021-12-15","k":"ma50","v":1.027},{"d":"2021-12-20","k":"ma50","v":1.005},{"d":"2021-12-26","k":"ma50","v":0.977},{"d":"2021-12-31","k":"ma50","v":0.943},{"d":"2022-01-04","k":"ma50","v":0.911},{"d":"2022-01-09","k":"ma50","v":0.877},{"d":"2022-01-14","k":"ma50","v":0.855},{"d":"2022-01-18","k":"ma50","v":0.842},{"d":"2022-01-22","k":"ma50","v":0.817},{"d":"2022-01-27","k":"ma50","v":0.797},{"d":"2022-01-30","k":"ma50","v":0.783},{"d":"2022-02-02","k":"ma50","v":0.767},{"d":"2022-02-07","k":"ma50","v":0.757},{"d":"2022-02-10","k":"ma50","v":0.757},{"d":"2022-02-12","k":"ma50","v":0.745},{"d":"2022-02-15","k":"ma50","v":0.739},{"d":"2022-02-20","k":"ma50","v":0.736},{"d":"2022-02-24","k":"ma50","v":0.727},{"d":"2022-03-01","k":"ma50","v":0.727},{"d":"2022-03-05","k":"ma50","v":0.723},{"d":"2022-03-10","k":"ma50","v":0.722},{"d":"2022-03-14","k":"ma50","v":0.733},{"d":"2022-03-19","k":"ma50","v":0.749},{"d":"2022-03-23","k":"ma50","v":0.767},{"d":"2022-03-28","k":"ma50","v":0.789},{"d":"2022-04-05","k":"ma50","v":0.789},{"d":"2022-04-11","k":"ma50","v":0.784},{"d":"2022-04-14","k":"ma50","v":0.784},{"d":"2022-04-22","k":"ma50","v":0.7839},
      {"d":"2021-06-28","k":"ma200","v":0.731},{"d":"2021-07-10","k":"ma200","v":0.737},{"d":"2021-07-20","k":"ma200","v":0.755},{"d":"2021-08-01","k":"ma200","v":0.777},{"d":"2021-08-10","k":"ma200","v":0.805},{"d":"2021-08-16","k":"ma200","v":0.830},{"d":"2021-08-19","k":"ma200","v":0.838},{"d":"2021-08-25","k":"ma200","v":0.858},{"d":"2021-08-31","k":"ma200","v":0.880},{"d":"2021-09-06","k":"ma200","v":0.902},{"d":"2021-09-12","k":"ma200","v":0.921},{"d":"2021-09-18","k":"ma200","v":0.943},{"d":"2021-09-24","k":"ma200","v":0.958},{"d":"2021-09-30","k":"ma200","v":0.971},{"d":"2021-10-06","k":"ma200","v":0.990},{"d":"2021-10-12","k":"ma200","v":1.005},{"d":"2021-10-18","k":"ma200","v":1.018},{"d":"2021-10-22","k":"ma200","v":1.026},{"d":"2021-10-26","k":"ma200","v":1.027},{"d":"2021-10-30","k":"ma200","v":1.021},{"d":"2021-11-02","k":"ma200","v":1.010},{"d":"2021-11-08","k":"ma200","v":1.007},{"d":"2021-11-11","k":"ma200","v":1.008},{"d":"2021-11-17","k":"ma200","v":1.002},{"d":"2021-11-23","k":"ma200","v":0.983},{"d":"2021-11-29","k":"ma200","v":0.971},{"d":"2021-12-05","k":"ma200","v":0.958},{"d":"2021-12-11","k":"ma200","v":0.952},{"d":"2021-12-17","k":"ma200","v":0.950},{"d":"2021-12-21","k":"ma200","v":0.946},{"d":"2022-01-03","k":"ma200","v":0.946},{"d":"2022-01-09","k":"ma200","v":0.950},{"d":"2022-01-15","k":"ma200","v":0.954},{"d":"2022-01-27","k":"ma200","v":0.953},{"d":"2022-02-02","k":"ma200","v":0.954},{"d":"2022-02-08","k":"ma200","v":0.960},{"d":"2022-02-14","k":"ma200","v":0.964},{"d":"2022-02-21","k":"ma200","v":0.965},{"d":"2022-02-27","k":"ma200","v":0.962},{"d":"2022-03-04","k":"ma200","v":0.949},{"d":"2022-03-10","k":"ma200","v":0.937},{"d":"2022-03-16","k":"ma200","v":0.927},{"d":"2022-03-20","k":"ma200","v":0.921},{"d":"2022-03-24","k":"ma200","v":0.912},{"d":"2022-03-28","k":"ma200","v":0.902},{"d":"2022-04-05","k":"ma200","v":0.891},{"d":"2022-04-11","k":"ma200","v":0.885},{"d":"2022-04-17","k":"ma200","v":0.880},{"d":"2022-04-22","k":"ma200","v":0.8739}
    ],
    "lv": [
      {"v":1.4151,"s":"2021-08-10"},
      {"v":1.0,"s":"2021-09-28"},
      {"v":0.9168,"s":"2022-02-03"},
      {"v":0.69,"s":"2022-02-05"},
      {"v":0.5,"s":"2021-06-28"}
    ],
    "last": [
      {"k":"ma200","n":"MA","v":0.8739},
      {"k":"ma50","n":"MA","v":0.7839},
      {"k":"ema","n":"EMA","v":0.7634},
      {"k":"px","n":"XRPUSDT","v":0.7335,"t":"07:22:41"}
    ],
    "cur": [{"u":"USDT","v":1.4436}],
    "rsiLast": [{"n":"RSI","v":42.88}],
    "rsiLv": [{"y":70},{"y":50},{"y":30}]
  },
  "vconcat": [
    {
      "width": 1747,
      "height": 533,
      "layer": [
        {
          "data": {"name": "candles"},
          "mark": {"type": "rule", "strokeWidth": 1},
          "encoding": {
            "x": {
              "field": "d", "type": "temporal",
              "scale": {"type": "utc", "domain": [{"year":2021,"month":6,"date":28,"hours":3,"minutes":20,"utc":true},{"year":2022,"month":5,"date":6,"hours":16,"utc":true}]},
              "axis": {
                "values": [{"year":2021,"month":7,"date":1,"utc":true},{"year":2021,"month":7,"date":16,"utc":true},{"year":2021,"month":8,"date":1,"utc":true},{"year":2021,"month":8,"date":16,"utc":true},{"year":2021,"month":9,"date":1,"utc":true},{"year":2021,"month":9,"date":16,"utc":true},{"year":2021,"month":10,"date":1,"utc":true},{"year":2021,"month":10,"date":16,"utc":true},{"year":2021,"month":11,"date":1,"utc":true},{"year":2021,"month":11,"date":16,"utc":true},{"year":2021,"month":12,"date":1,"utc":true},{"year":2021,"month":12,"date":16,"utc":true},{"year":2022,"month":1,"date":1,"utc":true},{"year":2022,"month":1,"date":17,"utc":true},{"year":2022,"month":2,"date":1,"utc":true},{"year":2022,"month":3,"date":1,"utc":true},{"year":2022,"month":3,"date":16,"utc":true},{"year":2022,"month":4,"date":1,"utc":true},{"year":2022,"month":4,"date":16,"utc":true},{"year":2022,"month":5,"date":1,"utc":true}],
                "labels": false, "ticks": false, "domain": false, "grid": true, "gridColor": "#f0f3fa", "title": null, "minExtent": 0, "maxExtent": 0
              }
            },
            "y": {
              "field": "l", "type": "quantitative",
              "scale": {"domain": [0.4605, 1.4624], "nice": false, "zero": false},
              "axis": {"orient": "right", "values": [0.5, 0.6, 0.7, 0.8, 0.9, 1.0, 1.1, 1.2, 1.3, 1.4], "labelExpr": "datum.value == 0.7 || datum.value == 0.8 ? '' : format(datum.value, '.4f')", "grid": true, "gridColor": "#f0f3fa", "ticks": false, "tickSize": 0, "domain": false, "labelPadding": 10, "labelFontSize": 11.5, "labelColor": "#131722", "labelFont": "Liberation Sans", "title": null}
            },
            "y2": {"field": "h"},
            "color": {"condition": {"test": "datum.c >= datum.o", "value": "#26a69a"}, "value": "#ef5350"}
          }
        },
        {
          "data": {"name": "last"},
          "transform": [{"filter": "datum.k == 'px'"}],
          "mark": {"type": "rule", "color": "#26a69a", "strokeDash": [1, 3], "strokeWidth": 1},
          "encoding": {
            "x": {"datum": {"year":2021,"month":6,"date":28,"hours":3,"minutes":20,"utc":true}, "type": "temporal"},
            "x2": {"datum": {"year":2022,"month":5,"date":6,"hours":16,"utc":true}},
            "y": {"field": "v", "type": "quantitative"}
          }
        },
        {
          "data": {"name": "candles"},
          "mark": {"type": "rule", "strokeWidth": 4},
          "encoding": {
            "x": {"field": "d", "type": "temporal"},
            "y": {"field": "o", "type": "quantitative"},
            "y2": {"field": "c"},
            "color": {"condition": {"test": "datum.c >= datum.o", "value": "#26a69a"}, "value": "#ef5350"}
          }
        },
        {
          "data": {"name": "ma"},
          "mark": {"type": "line", "strokeWidth": 3, "interpolate": "monotone", "clip": true},
          "encoding": {
            "x": {"field": "d", "type": "temporal"},
            "y": {"field": "v", "type": "quantitative"},
            "color": {"field": "k", "type": "nominal", "scale": {"domain": ["ema", "ma50", "ma200"], "range": ["#1c2a8c", "#f0493e", "#0f7b61"]}, "legend": null}
          }
        },
        {
          "data": {"name": "lv"},
          "mark": {"type": "rule", "color": "#0000ff", "strokeWidth": 3.5, "strokeDash": [15, 18], "clip": true},
          "encoding": {
            "x": {"field": "s", "type": "temporal"},
            "x2": {"datum": {"year":2022,"month":5,"date":6,"hours":16,"utc":true}},
            "y": {"field": "v", "type": "quantitative"}
          }
        },
        {
          "data": {"values": [{}]},
          "encoding": {"x": {"datum": {"year":2021,"month":6,"date":28,"hours":3,"minutes":20,"utc":true}, "type": "temporal"}},
          "layer": [
            {"mark": {"type": "text", "align": "left", "baseline": "middle", "dx": 9, "color": "#2a2e39", "text": "XRP / TetherUS, 1D, BINANCE"}, "encoding": {"y": {"datum": 1.4361, "type": "quantitative"}}},
            {"mark": {"type": "text", "align": "left", "baseline": "middle", "dx": 173, "color": "#2a2e39", "text": "O"}, "encoding": {"y": {"datum": 1.4361, "type": "quantitative"}}},
            {"mark": {"type": "text", "align": "left", "baseline": "middle", "dx": 182, "color": "#26a69a", "text": "0.7328"}, "encoding": {"y": {"datum": 1.4361, "type": "quantitative"}}},
            {"mark": {"type": "text", "align": "left", "baseline": "middle", "dx": 226, "color": "#2a2e39", "text": "H"}, "encoding": {"y": {"datum": 1.4361, "type": "quantitative"}}},
            {"mark": {"type": "text", "align": "left", "baseline": "middle", "dx": 234, "color": "#26a69a", "text": "0.7387"}, "encoding": {"y": {"datum": 1.4361, "type": "quantitative"}}},
            {"mark": {"type": "text", "align": "left", "baseline": "middle", "dx": 277, "color": "#2a2e39", "text": "L"}, "encoding": {"y": {"datum": 1.4361, "type": "quantitative"}}},
            {"mark": {"type": "text", "align": "left", "baseline": "middle", "dx": 284, "color": "#26a69a", "text": "0.7142"}, "encoding": {"y": {"datum": 1.4361, "type": "quantitative"}}},
            {"mark": {"type": "text", "align": "left", "baseline": "middle", "dx": 328, "color": "#2a2e39", "text": "C"}, "encoding": {"y": {"datum": 1.4361, "type": "quantitative"}}},
            {"mark": {"type": "text", "align": "left", "baseline": "middle", "dx": 336, "color": "#26a69a", "text": "0.7335"}, "encoding": {"y": {"datum": 1.4361, "type": "quantitative"}}},
            {"mark": {"type": "text", "align": "left", "baseline": "middle", "dx": 379, "color": "#26a69a", "text": "+0.0007 (+0.10%)"}, "encoding": {"y": {"datum": 1.4361, "type": "quantitative"}}},
            {"mark": {"type": "text", "align": "left", "baseline": "middle", "dx": 9, "color": "#2a2e39", "text": "MA (50, close, 0)"}, "encoding": {"y": {"datum": 1.4036, "type": "quantitative"}}},
            {"mark": {"type": "text", "align": "left", "baseline": "middle", "dx": 107, "color": "#ef5350", "text": "0.7839"}, "encoding": {"y": {"datum": 1.4036, "type": "quantitative"}}},
            {"mark": {"type": "text", "align": "left", "baseline": "middle", "dx": 9, "color": "#2a2e39", "text": "EMA (20, close, 0)"}, "encoding": {"y": {"datum": 1.3709, "type": "quantitative"}}},
            {"mark": {"type": "text", "align": "left", "baseline": "middle", "dx": 113, "color": "#2f3ea0", "text": "0.7634"}, "encoding": {"y": {"datum": 1.3709, "type": "quantitative"}}},
            {"mark": {"type": "text", "align": "left", "baseline": "middle", "dx": 9, "color": "#2a2e39", "text": "MA (200, close, 0)"}, "encoding": {"y": {"datum": 1.3389, "type": "quantitative"}}},
            {"mark": {"type": "text", "align": "left", "baseline": "middle", "dx": 113, "color": "#1e8a6e", "text": "0.8739"}, "encoding": {"y": {"datum": 1.3389, "type": "quantitative"}}}
          ]
        },
        {
          "data": {"name": "lv"},
          "transform": [{"filter": "datum.v != 0.69"}],
          "encoding": {"x": {"datum": {"year":2022,"month":5,"date":6,"hours":16,"utc":true}, "type": "temporal"}, "y": {"field": "v", "type": "quantitative"}},
          "layer": [
            {"mark": {"type": "point", "shape": "M0,-8H51V8H0Z", "size": 4, "filled": true, "opacity": 1, "color": "#0000ff", "strokeWidth": 0}},
            {"mark": {"type": "text", "align": "left", "baseline": "middle", "dx": 8, "color": "#ffffff", "fontWeight": "bold"}, "encoding": {"text": {"field": "v", "type": "quantitative", "format": ".4f"}}}
          ]
        },
        {
          "data": {"name": "lv"},
          "transform": [{"filter": "datum.v == 0.69"}],
          "encoding": {"x": {"datum": {"year":2022,"month":5,"date":6,"hours":16,"utc":true}, "type": "temporal"}, "y": {"field": "v", "type": "quantitative"}},
          "layer": [
            {"mark": {"type": "point", "shape": "M0,4H51V20H0Z", "size": 4, "filled": true, "opacity": 1, "color": "#0000ff", "strokeWidth": 0}},
            {"mark": {"type": "text", "align": "left", "baseline": "middle", "dx": 8, "dy": 12, "color": "#ffffff", "fontWeight": "bold"}, "encoding": {"text": {"field": "v", "type": "quantitative", "format": ".4f"}}}
          ]
        },
        {
          "data": {"name": "cur"},
          "encoding": {"x": {"datum": {"year":2022,"month":5,"date":6,"hours":16,"utc":true}, "type": "temporal"}, "y": {"field": "v", "type": "quantitative"}},
          "layer": [
            {"mark": {"type": "point", "shape": "M15,-7H51V7H15Z", "size": 4, "filled": true, "opacity": 1, "fill": "#ffffff", "stroke": "#b2b5be", "strokeWidth": 1}},
            {"mark": {"type": "text", "align": "center", "baseline": "middle", "dx": 33, "color": "#131722", "fontSize": 11}, "encoding": {"text": {"field": "u"}}}
          ]
        },
        {
          "data": {"name": "last"},
          "transform": [{"filter": "datum.k == 'ma200'"}],
          "encoding": {"x": {"datum": {"year":2022,"month":5,"date":6,"hours":16,"utc":true}, "type": "temporal"}, "y": {"field": "v", "type": "quantitative"}},
          "layer": [
            {"mark": {"type": "point", "shape": "M-28,-8H-2V8H-28Z", "size": 4, "filled": true, "opacity": 0.9, "color": "#0f7b61", "strokeWidth": 0}},
            {"mark": {"type": "text", "align": "center", "baseline": "middle", "dx": -15, "color": "#ffffff", "fontWeight": "bold"}, "encoding": {"text": {"field": "n"}}},
            {"mark": {"type": "point", "shape": "M0,-8H51V8H0Z", "size": 4, "filled": true, "opacity": 1, "color": "#0f7b61", "strokeWidth": 0}},
            {"mark": {"type": "text", "align": "left", "baseline": "middle", "dx": 8, "color": "#ffffff", "fontWeight": "bold"}, "encoding": {"text": {"field": "v", "type": "quantitative", "format": ".4f"}}}
          ]
        },
        {
          "data": {"name": "last"},
          "transform": [{"filter": "datum.k == 'ma50'"}],
          "encoding": {"x": {"datum": {"year":2022,"month":5,"date":6,"hours":16,"utc":true}, "type": "temporal"}, "y": {"field": "v", "type": "quantitative"}},
          "layer": [
            {"mark": {"type": "point", "shape": "M-28,-14H-2V2H-28Z", "size": 4, "filled": true, "opacity": 0.9, "color": "#ef5350", "strokeWidth": 0}},
            {"mark": {"type": "text", "align": "center", "baseline": "middle", "dx": -15, "dy": -6, "color": "#ffffff", "fontWeight": "bold"}, "encoding": {"text": {"field": "n"}}},
            {"mark": {"type": "point", "shape": "M0,-14H51V2H0Z", "size": 4, "filled": true, "opacity": 1, "color": "#ef5350", "strokeWidth": 0}},
            {"mark": {"type": "text", "align": "left", "baseline": "middle", "dx": 8, "dy": -6, "color": "#ffffff", "fontWeight": "bold"}, "encoding": {"text": {"field": "v", "type": "quantitative", "format": ".4f"}}}
          ]
        },
        {
          "data": {"name": "last"},
          "transform": [{"filter": "datum.k == 'ema'"}],
          "encoding": {"x": {"datum": {"year":2022,"month":5,"date":6,"hours":16,"utc":true}, "type": "temporal"}, "y": {"field": "v", "type": "quantitative"}},
          "layer": [
            {"mark": {"type": "point", "shape": "M-35,-8H-2V8H-35Z", "size": 4, "filled": true, "opacity": 0.9, "color": "#27368f", "strokeWidth": 0}},
            {"mark": {"type": "text", "align": "center", "baseline": "middle", "dx": -18.5, "color": "#ffffff", "fontWeight": "bold"}, "encoding": {"text": {"field": "n"}}},
            {"mark": {"type": "point", "shape": "M0,-8H51V8H0Z", "size": 4, "filled": true, "opacity": 1, "color": "#27368f", "strokeWidth": 0}},
            {"mark": {"type": "text", "align": "left", "baseline": "middle", "dx": 8, "color": "#ffffff", "fontWeight": "bold"}, "encoding": {"text": {"field": "v", "type": "quantitative", "format": ".4f"}}}
          ]
        },
        {
          "data": {"name": "last"},
          "transform": [{"filter": "datum.k == 'px'"}],
          "encoding": {"x": {"datum": {"year":2022,"month":5,"date":6,"hours":16,"utc":true}, "type": "temporal"}, "y": {"field": "v", "type": "quantitative"}},
          "layer": [
            {"mark": {"type": "point", "shape": "M-61,-6H-2V10H-61Z", "size": 4, "filled": true, "opacity": 0.9, "color": "#26a69a", "strokeWidth": 0}},
            {"mark": {"type": "text", "align": "center", "baseline": "middle", "dx": -31.5, "dy": 2, "color": "#ffffff", "fontWeight": "bold"}, "encoding": {"text": {"field": "n"}}},
            {"mark": {"type": "point", "shape": "M0,-6H62V24H0Z", "size": 4, "filled": true, "opacity": 1, "color": "#26a69a", "strokeWidth": 0}},
            {"mark": {"type": "text", "align": "left", "baseline": "middle", "dx": 8, "dy": 2, "color": "#ffffff", "fontWeight": "bold"}, "encoding": {"text": {"field": "v", "type": "quantitative", "format": ".4f"}}},
            {"mark": {"type": "text", "align": "left", "baseline": "middle", "dx": 8, "dy": 16, "color": "#ffffff", "fontSize": 11}, "encoding": {"text": {"field": "t"}}}
          ]
        }
      ]
    },
    {
      "width": 1747,
      "height": 197,
      "layer": [
        {
          "data": {"name": "candles"},
          "mark": {"type": "line", "color": "#7e57c2", "strokeWidth": 1.6, "clip": true},
          "encoding": {
            "x": {
              "field": "d", "type": "temporal",
              "scale": {"type": "utc", "domain": [{"year":2021,"month":6,"date":28,"hours":3,"minutes":20,"utc":true},{"year":2022,"month":5,"date":6,"hours":16,"utc":true}]},
              "axis": {
                "values": [{"year":2021,"month":7,"date":1,"utc":true},{"year":2021,"month":7,"date":16,"utc":true},{"year":2021,"month":8,"date":1,"utc":true},{"year":2021,"month":8,"date":16,"utc":true},{"year":2021,"month":9,"date":1,"utc":true},{"year":2021,"month":9,"date":16,"utc":true},{"year":2021,"month":10,"date":1,"utc":true},{"year":2021,"month":10,"date":16,"utc":true},{"year":2021,"month":11,"date":1,"utc":true},{"year":2021,"month":11,"date":16,"utc":true},{"year":2021,"month":12,"date":1,"utc":true},{"year":2021,"month":12,"date":16,"utc":true},{"year":2022,"month":1,"date":1,"utc":true},{"year":2022,"month":1,"date":17,"utc":true},{"year":2022,"month":2,"date":1,"utc":true},{"year":2022,"month":3,"date":1,"utc":true},{"year":2022,"month":3,"date":16,"utc":true},{"year":2022,"month":4,"date":1,"utc":true},{"year":2022,"month":4,"date":16,"utc":true},{"year":2022,"month":5,"date":1,"utc":true}],
                "labelExpr": "utcFormat(datum.value, '%d') == '01' ? (utcFormat(datum.value, '%m') == '01' ? utcFormat(datum.value, '%Y') : utcFormat(datum.value, '%b')) : utcFormat(datum.value, '%-d')",
                "grid": true, "gridColor": "#f0f3fa", "ticks": false, "tickSize": 0, "domain": false,
                "labelPadding": 9, "labelFontSize": 12, "labelColor": "#131722", "labelFont": "Liberation Sans Narrow, Liberation Sans",
                "labelOverlap": false, "title": null,
                "labelFontWeight": {"condition": {"test": "utcFormat(datum.value, '%m-%d') == '01-01'", "value": "bold"}, "value": "normal"}
              }
            },
            "y": {
              "field": "r", "type": "quantitative",
              "scale": {"domain": [19.7, 87.6], "nice": false, "zero": false},
              "axis": {"orient": "right", "values": [20, 40, 60, 80], "format": ".2f", "grid": true, "gridColor": "#f0f3fa", "ticks": false, "tickSize": 0, "domain": false, "labelPadding": 10, "labelFontSize": 11.5, "labelColor": "#131722", "labelFont": "Liberation Sans", "title": null}
            }
          }
        },
        {
          "data": {"values": [{}]},
          "mark": {"type": "rect", "color": "#7e57c2", "opacity": 0.1},
          "encoding": {
            "x": {"datum": {"year":2021,"month":6,"date":28,"hours":3,"minutes":20,"utc":true}, "type": "temporal"},
            "x2": {"datum": {"year":2022,"month":5,"date":6,"hours":16,"utc":true}},
            "y": {"datum": 70, "type": "quantitative"},
            "y2": {"datum": 30}
          }
        },
        {
          "data": {"name": "rsiLv"},
          "mark": {"type": "rule", "strokeDash": [4, 3], "strokeWidth": 1},
          "encoding": {
            "x": {"datum": {"year":2021,"month":6,"date":28,"hours":3,"minutes":20,"utc":true}, "type": "temporal"},
            "x2": {"datum": {"year":2022,"month":5,"date":6,"hours":16,"utc":true}},
            "y": {"field": "y", "type": "quantitative"},
            "color": {"condition": {"test": "datum.y == 50", "value": "#b2b5be"}, "value": "#787b86"}
          }
        },
        {
          "data": {"values": [{}]},
          "encoding": {"x": {"datum": {"year":2021,"month":6,"date":28,"hours":3,"minutes":20,"utc":true}, "type": "temporal"}},
          "layer": [
            {"mark": {"type": "text", "align": "left", "baseline": "middle", "dx": 10, "color": "#2a2e39", "text": "RSI (14, close)"}, "encoding": {"y": {"datum": 83.0, "type": "quantitative"}}},
            {"mark": {"type": "text", "align": "left", "baseline": "middle", "dx": 92, "color": "#7e57c2", "text": "42.88"}, "encoding": {"y": {"datum": 83.0, "type": "quantitative"}}},
            {"mark": {"type": "text", "align": "left", "baseline": "middle", "dx": 1, "color": "#131722", "fontWeight": "bold", "fontSize": 14, "text": "TV"}, "encoding": {"y": {"datum": 3.84, "type": "quantitative"}}},
            {"mark": {"type": "text", "align": "left", "baseline": "middle", "dx": 24, "color": "#131722", "fontSize": 12.5, "text": "TradingView"}, "encoding": {"y": {"datum": 3.84, "type": "quantitative"}}}
          ]
        },
        {
          "data": {"name": "rsiLast"},
          "encoding": {"x": {"datum": {"year":2022,"month":5,"date":6,"hours":16,"utc":true}, "type": "temporal"}, "y": {"field": "v", "type": "quantitative"}},
          "layer": [
            {"mark": {"type": "point", "shape": "M-28,-8H-2V8H-28Z", "size": 4, "filled": true, "opacity": 0.9, "color": "#7e57c2", "strokeWidth": 0}},
            {"mark": {"type": "text", "align": "center", "baseline": "middle", "dx": -15, "color": "#ffffff", "fontWeight": "bold"}, "encoding": {"text": {"field": "n"}}},
            {"mark": {"type": "point", "shape": "M0,-8H46V8H0Z", "size": 4, "filled": true, "opacity": 1, "color": "#7e57c2", "strokeWidth": 0}},
            {"mark": {"type": "text", "align": "left", "baseline": "middle", "dx": 8, "color": "#ffffff", "fontWeight": "bold"}, "encoding": {"text": {"field": "v", "type": "quantitative", "format": ".2f"}}}
          ]
        }
      ]
    }
  ]
}
